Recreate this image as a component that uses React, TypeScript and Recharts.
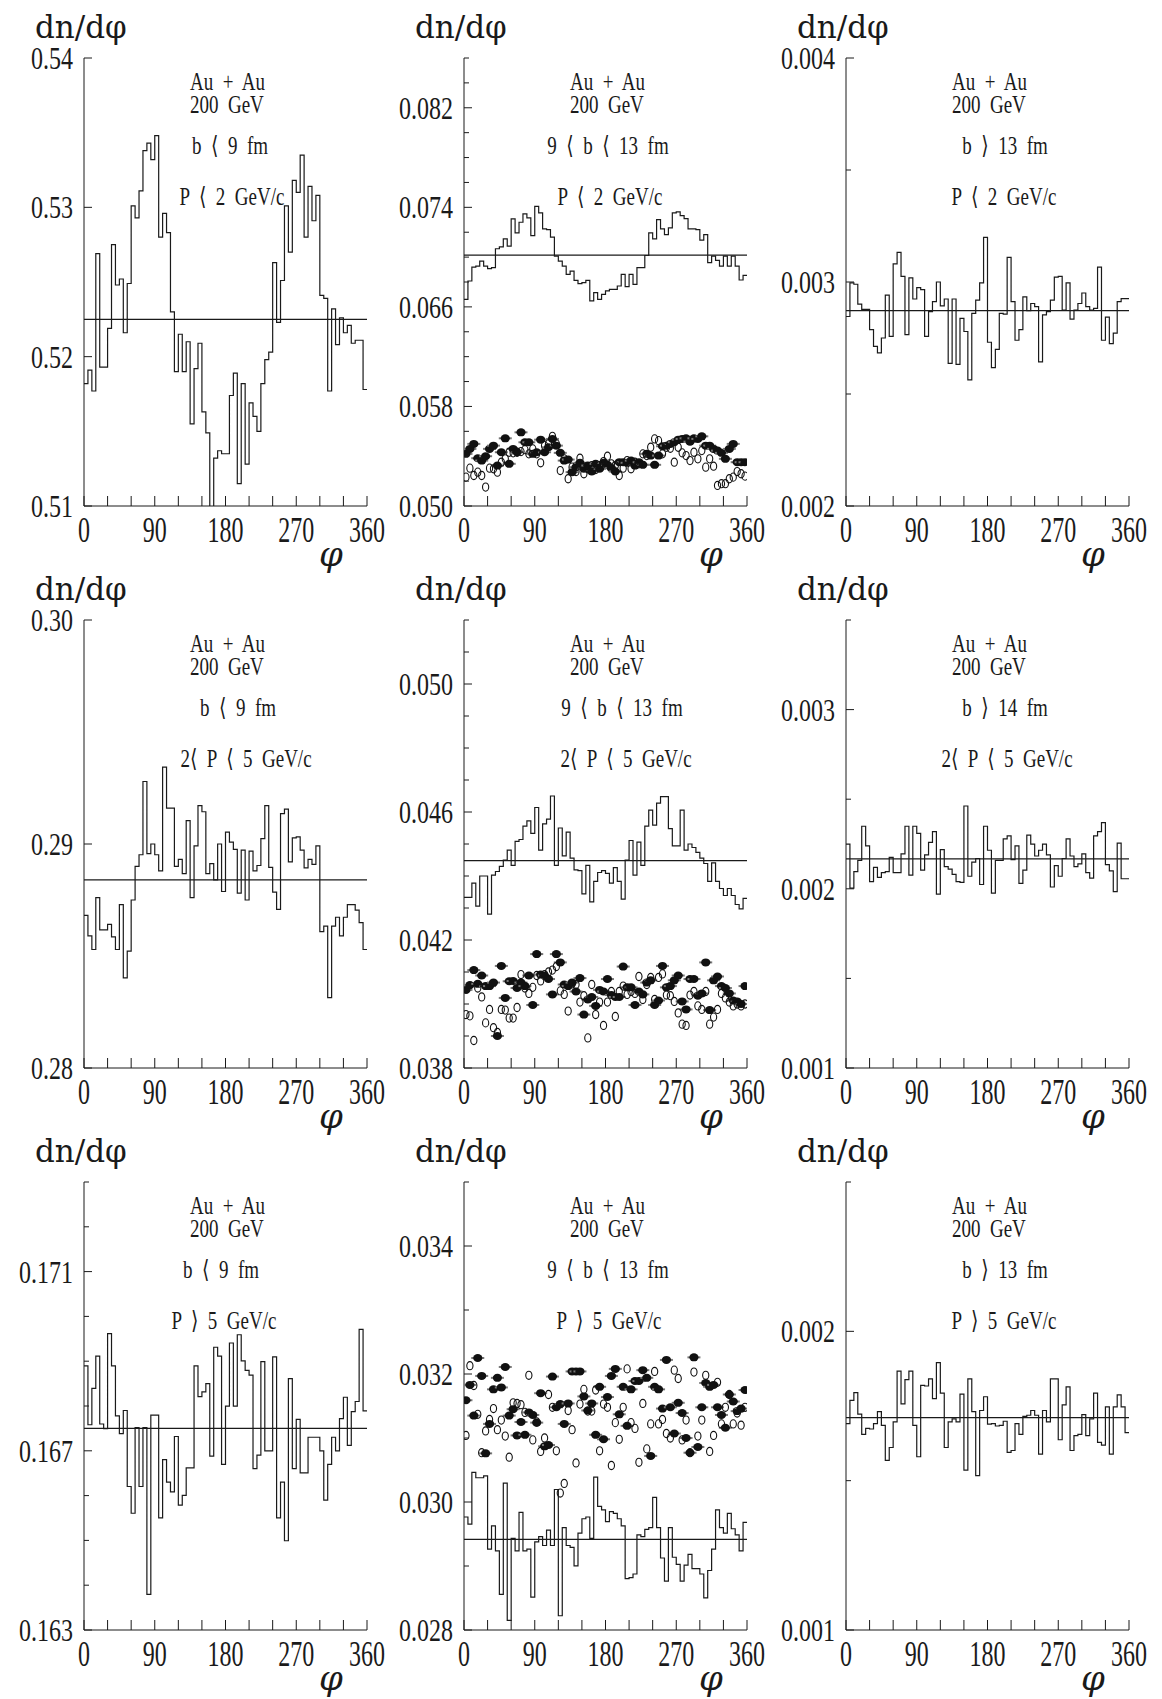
import { ComposedChart, Line, ReferenceLine, Scatter, XAxis, YAxis } from "recharts";

const INK = "#1a1a1a";

// layout of the 3x3 grid (plot-area corners, px)
const COL_X = [84, 464, 846];
const ROW_Y = [58, 620, 1182];
const PLOT_W = 283;
const PLOT_H = 448;
const PAD_L = 80;
const PAD_T = 18;
const PAD_R = 20;
const PAD_B = 60;

const X_TICKS = [0, 30, 60, 90, 120, 150, 180, 210, 240, 270, 300, 330, 360];
const X_LABELS = [0, 90, 180, 270, 360];

// ---- row 1: P < 2 GeV/c ----
const P1_HIST = [
  0.5182, 0.5191, 0.5177, 0.5269, 0.5193, 0.5193, 0.5219, 0.5275, 0.5248, 0.5252,
  0.5216, 0.5249, 0.5301, 0.5293, 0.5311, 0.5338, 0.5343, 0.5332, 0.5348, 0.528,
  0.5296, 0.5283, 0.523, 0.519, 0.5215, 0.519, 0.521, 0.5155, 0.5192, 0.5209,
  0.5163, 0.5149, 0.5095, 0.5132, 0.5137, 0.5135, 0.5135, 0.5174, 0.5189, 0.5115,
  0.5182, 0.5128, 0.5169, 0.516, 0.515, 0.5182, 0.5198, 0.5203, 0.5263, 0.5223,
  0.5251, 0.5301, 0.527, 0.5318, 0.531, 0.5335, 0.528, 0.5314, 0.5291, 0.5308,
  0.5241, 0.5239, 0.5177, 0.5232, 0.5208, 0.5226, 0.5216, 0.5221, 0.5209, 0.5211,
  0.5211, 0.5178,
];
const P1_YTICKS = [0.51, 0.52, 0.53, 0.54];
const P1_YLABELS = [0.51, 0.52, 0.53, 0.54];

const P2_HIST = [
  0.06661, 0.06808, 0.0692, 0.06928, 0.06968, 0.06928, 0.06907, 0.06915, 0.07067, 0.07083,
  0.07147, 0.07088, 0.07307, 0.07195, 0.0728, 0.07347, 0.07315, 0.07173, 0.07408, 0.07355,
  0.07227, 0.07221, 0.0716, 0.07008, 0.06968, 0.06928, 0.06861, 0.06888, 0.06813, 0.06787,
  0.06795, 0.06813, 0.06648, 0.06715, 0.06661, 0.06701, 0.06728, 0.06741, 0.06741, 0.06768,
  0.06861, 0.06763, 0.06861, 0.06781, 0.06915, 0.06915, 0.07013, 0.07195, 0.07147, 0.07301,
  0.07227, 0.07181, 0.07235, 0.07355, 0.07363, 0.07333, 0.07309, 0.07227, 0.07227, 0.07221,
  0.07136, 0.07181, 0.06955, 0.07008, 0.06973, 0.06928, 0.07008, 0.06928, 0.07008, 0.06928,
  0.06816, 0.06853,
];
const P2_FILLED = [
  0.05419, 0.05459, 0.05499, 0.05384, 0.05365, 0.054, 0.05459, 0.05485, 0.05325, 0.05432,
  0.05544, 0.05339, 0.05459, 0.05432, 0.05592, 0.05512, 0.05512, 0.05419, 0.05432, 0.05533,
  0.05432, 0.05472, 0.05539, 0.05485, 0.05427, 0.05365, 0.05373, 0.05272, 0.05312, 0.05347,
  0.05299, 0.05325, 0.05277, 0.05339, 0.05299, 0.05347, 0.05331, 0.05304, 0.05277, 0.05352,
  0.05352, 0.05347, 0.05365, 0.05325, 0.05352, 0.05331, 0.05419, 0.05405, 0.05331, 0.05405,
  0.0548, 0.05485, 0.05499, 0.05512, 0.05533, 0.05539, 0.05544, 0.05517, 0.05544, 0.05539,
  0.0556, 0.05485, 0.05485, 0.05459, 0.05445, 0.05427, 0.05379, 0.05459, 0.05499, 0.05352,
  0.05352, 0.05352,
];
const P2_OPEN = [
  0.05232, 0.05304, 0.05245, 0.05272, 0.05245, 0.05152, 0.05304, 0.05299, 0.05272, 0.05352,
  0.05379, 0.05432, 0.05427, 0.05432, 0.05437, 0.05453, 0.05419, 0.05459, 0.05419, 0.05347,
  0.05485, 0.05499, 0.0556, 0.05499, 0.05285, 0.05379, 0.05219, 0.05312, 0.05277, 0.05384,
  0.05259, 0.05299, 0.05325, 0.05293, 0.05325, 0.05357, 0.054, 0.05339, 0.05325, 0.05245,
  0.05304, 0.05365, 0.05299, 0.05352, 0.05339, 0.05419, 0.05405, 0.05472, 0.05539, 0.05525,
  0.05419, 0.05472, 0.05464, 0.05352, 0.05472, 0.05427, 0.05405, 0.05365, 0.05432, 0.05379,
  0.05445, 0.05312, 0.05379, 0.0532, 0.05165, 0.05179, 0.05179, 0.05219, 0.05232, 0.05277,
  0.05259, 0.0524,
];
const P2_YTICKS = [
  0.05, 0.052, 0.054, 0.056, 0.058, 0.06, 0.062, 0.064, 0.066, 0.068,
  0.07, 0.072, 0.074, 0.076, 0.078, 0.08, 0.082, 0.084, 0.086,
];
const P2_YLABELS = [0.05, 0.058, 0.066, 0.074, 0.082];

const P3_HIST = [
  0.002846, 0.002996, 0.00299, 0.002901, 0.002878, 0.002878, 0.002787, 0.002713, 0.002684, 0.00275,
  0.002941, 0.002757, 0.003081, 0.003132, 0.003025, 0.002765, 0.003018, 0.002924, 0.002975, 0.002966,
  0.002757, 0.002868, 0.002912, 0.003, 0.002893, 0.002924, 0.002637, 0.002924, 0.002632, 0.002838,
  0.002779, 0.002563, 0.00286, 0.002919, 0.002996, 0.003199, 0.002731, 0.002618, 0.002699, 0.00286,
  0.002857, 0.00311, 0.002912, 0.00274, 0.002787, 0.002934, 0.002872, 0.002904, 0.00289, 0.002643,
  0.002853, 0.002868, 0.002919, 0.003022, 0.003025, 0.002875, 0.002996, 0.002834, 0.002875, 0.002904,
  0.002951, 0.00289, 0.002875, 0.002882, 0.003066, 0.00274, 0.002843, 0.002725, 0.002772, 0.002912,
  0.002926, 0.002926,
];
const P3_YTICKS = [0.002, 0.0025, 0.003, 0.0035, 0.004];
const P3_YLABELS = [0.002, 0.003, 0.004];

// ---- row 2: 2 < P < 5 GeV/c ----
const P4_HIST = [
  0.28681, 0.2859, 0.28529, 0.28761, 0.28617, 0.28617, 0.28641, 0.28585, 0.28529, 0.28729,
  0.28402, 0.28522, 0.2875, 0.289, 0.28952, 0.29279, 0.28957, 0.29, 0.28952, 0.2888,
  0.29343, 0.2916, 0.2916, 0.289, 0.28931, 0.28868, 0.29104, 0.28761, 0.28992, 0.29171,
  0.29144, 0.28868, 0.28912, 0.2884, 0.29, 0.28788, 0.29053, 0.29008, 0.28976, 0.28781,
  0.28973, 0.2875, 0.28968, 0.2888, 0.28904, 0.29024, 0.29171, 0.28896, 0.28785, 0.28708,
  0.29136, 0.29156, 0.2892, 0.29027, 0.29032, 0.28973, 0.28893, 0.28931, 0.28909, 0.28992,
  0.28609, 0.28633, 0.28314, 0.28633, 0.28673, 0.2859, 0.28673, 0.28729, 0.28729, 0.28705,
  0.28649, 0.28529,
];
const P4_YTICKS = [0.28, 0.29, 0.3];
const P4_YLABELS = [0.28, 0.29, 0.3];

const P5_HIST = [
  0.04333, 0.04333, 0.04378, 0.04306, 0.044, 0.044, 0.04281, 0.04403, 0.04414, 0.0443,
  0.0445, 0.04481, 0.04433, 0.04508, 0.04514, 0.04556, 0.04572, 0.04533, 0.04614, 0.04481,
  0.04563, 0.04578, 0.0465, 0.04433, 0.0455, 0.04463, 0.04537, 0.04456, 0.04419, 0.04417,
  0.04344, 0.04433, 0.04319, 0.04383, 0.04411, 0.04417, 0.04408, 0.04378, 0.04426, 0.04383,
  0.04328, 0.0445, 0.04511, 0.04403, 0.04506, 0.04433, 0.04556, 0.04606, 0.04559, 0.04628,
  0.04648, 0.04648, 0.04548, 0.04494, 0.04494, 0.04606, 0.04481, 0.045, 0.04489, 0.04474,
  0.04456, 0.04439, 0.04383, 0.04441, 0.04383, 0.04361, 0.04339, 0.04361, 0.04339, 0.04311,
  0.04297, 0.0433,
];
const P5_FILLED = [
  0.04044, 0.04059, 0.04106, 0.04063, 0.04089, 0.04056, 0.04056, 0.04067, 0.039, 0.04119,
  0.04019, 0.04071, 0.04072, 0.0405, 0.04067, 0.04056, 0.04089, 0.03997, 0.04156, 0.04092,
  0.04089, 0.04078, 0.0403, 0.04156, 0.0413, 0.04061, 0.04056, 0.04067, 0.04039, 0.04081,
  0.03967, 0.04014, 0.04022, 0.03994, 0.04044, 0.04039, 0.04078, 0.04028, 0.04022, 0.04022,
  0.04117, 0.04052, 0.04052, 0.03997, 0.04039, 0.0403, 0.04067, 0.04074, 0.03997, 0.04011,
  0.04119, 0.04052, 0.04056, 0.04074, 0.04089, 0.04008, 0.03983, 0.04078, 0.04078, 0.04026,
  0.04033, 0.0413, 0.03981, 0.04074, 0.04086, 0.04056, 0.0405, 0.04033, 0.04011, 0.04008,
  0.04, 0.04056,
];
const P5_OPEN = [
  0.03967, 0.03963, 0.03886, 0.0405, 0.04022, 0.03941, 0.03983, 0.03926, 0.03911, 0.03983,
  0.03981, 0.03956, 0.03956, 0.03989, 0.04092, 0.0405, 0.04033, 0.04052, 0.04089, 0.04072,
  0.04092, 0.041, 0.04106, 0.04117, 0.04041, 0.0403, 0.03978, 0.04063, 0.04061, 0.04006,
  0.04026, 0.03894, 0.04061, 0.03967, 0.04006, 0.03933, 0.04006, 0.04039, 0.03961, 0.04039,
  0.04056, 0.0403, 0.04039, 0.04033, 0.04086, 0.04014, 0.04061, 0.04083, 0.04014, 0.04083,
  0.04094, 0.04028, 0.04026, 0.04008, 0.03972, 0.03937, 0.03933, 0.04028, 0.04039, 0.03994,
  0.03983, 0.04039, 0.03937, 0.03959, 0.03983, 0.04033, 0.04019, 0.04006, 0.03994, 0.04,
  0.03994, 0.04,
];
const P5_YTICKS = [
  0.038, 0.039, 0.04, 0.041, 0.042, 0.043, 0.044, 0.045, 0.046, 0.047, 0.048, 0.049, 0.05, 0.051, 0.052,
];
const P5_YLABELS = [0.038, 0.042, 0.046, 0.05];

const P6_HIST = [
  0.002249, 0.002004, 0.002096, 0.002159, 0.002349, 0.002239, 0.00204, 0.00212, 0.002064, 0.00209,
  0.002096, 0.002175, 0.00209, 0.00209, 0.002195, 0.002349, 0.002076, 0.002349, 0.002309, 0.002104,
  0.002189, 0.002259, 0.002319, 0.00197, 0.002219, 0.002124, 0.00211, 0.00208, 0.00204, 0.002036,
  0.002462, 0.00207, 0.002149, 0.002169, 0.002024, 0.002349, 0.002215, 0.001976, 0.002159, 0.002159,
  0.002279, 0.002295, 0.002163, 0.002239, 0.00203, 0.002104, 0.002299, 0.002249, 0.002183, 0.002215,
  0.002249, 0.002189, 0.00201, 0.002129, 0.00207, 0.002169, 0.002279, 0.002183, 0.002124, 0.002139,
  0.002195, 0.00209, 0.00206, 0.002295, 0.002319, 0.002369, 0.002135, 0.0021, 0.001984, 0.002255,
  0.002056, 0.002056,
];
const P6_YTICKS = [0.001, 0.0015, 0.002, 0.0025, 0.003, 0.0035];
const P6_YLABELS = [0.001, 0.002, 0.003];

// ---- row 3: P > 5 GeV/c ----
const P7_HIST = [
  0.168896, 0.167582, 0.168394, 0.169112, 0.167598, 0.167494, 0.169614, 0.168896, 0.167781, 0.167382,
  0.1679, 0.166203, 0.165606, 0.167518, 0.166203, 0.167518, 0.163797, 0.167797, 0.167797, 0.165502,
  0.166801, 0.166299, 0.166084, 0.167319, 0.165789, 0.166004, 0.166618, 0.166618, 0.168896, 0.168211,
  0.168315, 0.168498, 0.16688, 0.169311, 0.169112, 0.166697, 0.167996, 0.169406, 0.167996, 0.16959,
  0.169008, 0.168793, 0.168689, 0.166602, 0.166904, 0.168992, 0.167, 0.167, 0.169096, 0.165502,
  0.166299, 0.164992, 0.16861, 0.166602, 0.167701, 0.166506, 0.166506, 0.167303, 0.167303, 0.167303,
  0.167, 0.1659, 0.166697, 0.167303, 0.167, 0.167717, 0.168195, 0.16712, 0.167876, 0.1681,
  0.169709, 0.167892,
];
const P7_YTICKS = [0.163, 0.164, 0.165, 0.166, 0.167, 0.168, 0.169, 0.17, 0.171, 0.172, 0.173];
const P7_YLABELS = [0.163, 0.167, 0.171];

const P8_HIST = [
  0.029766, 0.029655, 0.030462, 0.030379, 0.030379, 0.030407, 0.029265, 0.029627, 0.029237, 0.028557,
  0.030295, 0.02815, 0.029432, 0.029237, 0.029838, 0.029237, 0.029265, 0.028513, 0.029376, 0.02946,
  0.02932, 0.02956, 0.02932, 0.030195, 0.028223, 0.029599, 0.02932, 0.029292, 0.029003, 0.029515,
  0.029738, 0.029766, 0.029432, 0.03039, 0.029933, 0.029877, 0.029694, 0.02985, 0.029822, 0.029738,
  0.029627, 0.028802, 0.028819, 0.028875, 0.029487, 0.02946, 0.029571, 0.029599, 0.030072, 0.029599,
  0.029125, 0.028763, 0.029599, 0.029137, 0.029025, 0.028763, 0.029014, 0.029181, 0.028958, 0.028958,
  0.028875, 0.028501, 0.02893, 0.029265, 0.029877, 0.029599, 0.029515, 0.029822, 0.029582, 0.029487,
  0.029237, 0.029682,
];
const P8_FILLED = [
  0.03159, 0.03183, 0.03135, 0.03225, 0.03197, 0.03076, 0.03122, 0.03176, 0.03194, 0.03179,
  0.03211, 0.03135, 0.03145, 0.03104, 0.03125, 0.03105, 0.0314, 0.03136, 0.03124, 0.0317,
  0.03087, 0.03089, 0.03196, 0.03148, 0.03153, 0.03122, 0.03154, 0.03204, 0.03204, 0.03204,
  0.03165, 0.03143, 0.03154, 0.03105, 0.0318, 0.03098, 0.03164, 0.03197, 0.03208, 0.03137,
  0.0318, 0.03119, 0.03176, 0.03189, 0.03189, 0.03206, 0.03194, 0.03072, 0.0318, 0.03176,
  0.03146, 0.03222, 0.03148, 0.03107, 0.03155, 0.03139, 0.031, 0.03077, 0.03226, 0.03086,
  0.03148, 0.03186, 0.0318, 0.03183, 0.03148, 0.03136, 0.03116, 0.03168, 0.03157, 0.03142,
  0.03146, 0.03175,
];
const P8_OPEN = [
  0.03104, 0.03213, 0.03182, 0.03137, 0.03077, 0.03111, 0.03129, 0.03146, 0.03113, 0.03128,
  0.03103, 0.0307, 0.03155, 0.03154, 0.03152, 0.0314, 0.03198, 0.03097, 0.03125, 0.03079,
  0.031, 0.03168, 0.03148, 0.0308, 0.03014, 0.03029, 0.03143, 0.03113, 0.03061, 0.03153,
  0.03176, 0.03142, 0.03142, 0.03175, 0.0308, 0.03153, 0.03148, 0.03057, 0.03124, 0.03098,
  0.03148, 0.03208, 0.03124, 0.03115, 0.03062, 0.03154, 0.03083, 0.03122, 0.03204, 0.03122,
  0.03129, 0.03107, 0.031, 0.03206, 0.03193, 0.03097, 0.03128, 0.03077, 0.03203, 0.03103,
  0.03128, 0.03198, 0.03079, 0.03104, 0.03187, 0.03122, 0.03148, 0.03168, 0.03122, 0.03139,
  0.0312, 0.03148,
];
const P8_YTICKS = [0.028, 0.029, 0.03, 0.031, 0.032, 0.033, 0.034, 0.035];
const P8_YLABELS = [0.028, 0.03, 0.032, 0.034];

const P9_HIST = [
  0.001691, 0.001769, 0.001795, 0.001723, 0.001655, 0.001675, 0.001673, 0.001691, 0.001731, 0.001685,
  0.001568, 0.001611, 0.001697, 0.001867, 0.001757, 0.001838, 0.001867, 0.001685, 0.00158, 0.001819,
  0.001817, 0.001841, 0.001775, 0.001895, 0.001793, 0.001611, 0.001697, 0.001707, 0.001697, 0.00179,
  0.001535, 0.001841, 0.001731, 0.001517, 0.001735, 0.001781, 0.001689, 0.001691, 0.001683, 0.001685,
  0.001699, 0.001595, 0.001601, 0.001691, 0.001655, 0.001715, 0.001719, 0.001735, 0.001719, 0.001589,
  0.001735, 0.001697, 0.001841, 0.001841, 0.001637, 0.001754, 0.001814, 0.001601, 0.001651, 0.001655,
  0.001721, 0.001651, 0.001707, 0.001793, 0.001628, 0.001619, 0.001747, 0.001589, 0.001747, 0.001787,
  0.001747, 0.001661,
];
const P9_YTICKS = [0.001, 0.0015, 0.002, 0.0025];
const P9_YLABELS = [0.001, 0.002];

// flat mean levels, panel order row by row
const MEANS = [0.5225, 0.07016, 0.002872, 0.2884, 0.04448, 0.002167, 0.1675, 0.029415, 0.001711];

const B_CUTS = ["b  ⟨  9  fm", "9  ⟨  b  ⟨  13  fm", "b  ⟩  13  fm", "b  ⟨  9  fm", "9  ⟨  b  ⟨  13  fm", "b  ⟩  14  fm", "b  ⟨  9  fm", "9  ⟨  b  ⟨  13  fm", "b  ⟩  13  fm"];
const P_CUTS = ["P  ⟨  2  GeV/c", "P  ⟨  2  GeV/c", "P  ⟨  2  GeV/c", "2⟨  P  ⟨  5  GeV/c", "2⟨  P  ⟨  5  GeV/c", "2⟨  P  ⟨  5  GeV/c", "P  ⟩  5  GeV/c", "P  ⟩  5  GeV/c", "P  ⟩  5  GeV/c"];

const PANELS = [
  { hist: P1_HIST, domain: [0.51, 0.54], yTicks: P1_YTICKS, yLabels: P1_YLABELS, digits: 2, bOff: 146, pOff: 148 },
  { hist: P2_HIST, domain: [0.05, 0.086], yTicks: P2_YTICKS, yLabels: P2_YLABELS, digits: 3, filled: P2_FILLED, open: P2_OPEN, bOff: 144, pOff: 146 },
  { hist: P3_HIST, domain: [0.002, 0.004], yTicks: P3_YTICKS, yLabels: P3_YLABELS, digits: 3, bOff: 159, pOff: 158 },
  { hist: P4_HIST, domain: [0.28, 0.3], yTicks: P4_YTICKS, yLabels: P4_YLABELS, digits: 2, bOff: 154, pOff: 162 },
  { hist: P5_HIST, domain: [0.038, 0.052], yTicks: P5_YTICKS, yLabels: P5_YLABELS, digits: 3, filled: P5_FILLED, open: P5_OPEN, bOff: 158, pOff: 162 },
  { hist: P6_HIST, domain: [0.001, 0.0035], yTicks: P6_YTICKS, yLabels: P6_YLABELS, digits: 3, bOff: 159, pOff: 161 },
  { hist: P7_HIST, domain: [0.163, 0.173], yTicks: P7_YTICKS, yLabels: P7_YLABELS, digits: 3, bOff: 137, pOff: 140 },
  { hist: P8_HIST, domain: [0.028, 0.035], yTicks: P8_YTICKS, yLabels: P8_YLABELS, digits: 3, filled: P8_FILLED, open: P8_OPEN, bOff: 144, pOff: 145 },
  { hist: P9_HIST, domain: [0.001, 0.0025], yTicks: P9_YTICKS, yLabels: P9_YLABELS, digits: 3, bOff: 159, pOff: 158 },
];

const isLabel = (list: number[], v: number) => list.some((l) => Math.abs(l - v) < 1e-9);

const XTick = (props: any) => {
  const { x, y, payload } = props;
  const v = payload.value;
  return (
    <g>
      <line x1={x} x2={x} y1={y} y2={y - 10} stroke={INK} strokeWidth={1} />
      {isLabel(X_LABELS, v) && (
        <text
          transform={`translate(${x},${y + 24}) scale(1,1.5)`}
          textAnchor="middle"
          dy="0.34em"
          fontFamily="Liberation Serif"
          fontSize={24}
          fill={INK}
        >
          {v}
        </text>
      )}
    </g>
  );
};

const YTick = (props: any) => {
  const { x, y, payload, labels, digits } = props;
  const v = payload.value;
  const major = isLabel(labels, v);
  return (
    <g>
      <line x1={x} x2={x + (major ? 8 : 5)} y1={y} y2={y} stroke={INK} strokeWidth={1} />
      {major && (
        <text
          transform={`translate(${x - 11},${y}) scale(1,1.34)`}
          textAnchor="end"
          dy="0.34em"
          fontFamily="Liberation Serif"
          fontSize={24}
          fill={INK}
        >
          {v.toFixed(digits)}
        </text>
      )}
    </g>
  );
};

const FilledDot = (props: any) => {
  const { cx, cy } = props;
  if (cx == null || cy == null) return null;
  return (
    <g>
      <line x1={cx - 6.5} x2={cx + 6.5} y1={cy} y2={cy} stroke="#777" strokeWidth={2} />
      <ellipse cx={cx} cy={cy} rx={4.6} ry={4} fill="#111" />
    </g>
  );
};

const OpenDot = (props: any) => {
  const { cx, cy } = props;
  if (cx == null || cy == null) return null;
  return <ellipse cx={cx} cy={cy} rx={3.1} ry={4.1} fill="none" stroke="#111" strokeWidth={1.1} />;
};

const Panel = ({ p, mean, left, top }: any) => {
  const rows = p.hist
    .map((v: number, i: number) => ({ phi: i * 5, v }))
    .concat([{ phi: 360, v: p.hist[p.hist.length - 1] }]);
  const filled = p.filled ? p.filled.map((v: number, i: number) => ({ phi: i * 5 + 2.5, v })) : null;
  const open = p.open ? p.open.map((v: number, i: number) => ({ phi: i * 5 + 2.5, v })) : null;
  return (
    <div style={{ position: "absolute", left: left - PAD_L, top: top - PAD_T }}>
      <ComposedChart
        width={PAD_L + PLOT_W + PAD_R}
        height={PAD_T + PLOT_H + PAD_B}
        data={rows}
        margin={{ top: PAD_T, right: PAD_R, bottom: 0, left: 0 }}
      >
        <XAxis
          type="number"
          dataKey="phi"
          domain={[0, 360]}
          ticks={X_TICKS}
          interval={0}
          height={PAD_B}
          tickLine={false}
          tickSize={0}
          tickMargin={0}
          stroke={INK}
          allowDataOverflow
          tick={(t: any) => <XTick {...t} />}
        />
        <YAxis
          type="number"
          dataKey="v"
          domain={p.domain}
          ticks={p.yTicks}
          interval={0}
          width={PAD_L}
          tickLine={false}
          tickSize={0}
          tickMargin={0}
          stroke={INK}
          allowDataOverflow
          tick={(t: any) => <YTick {...t} labels={p.yLabels} digits={p.digits} />}
        />
        <ReferenceLine y={mean} stroke={INK} strokeWidth={1.2} />
        {filled && <Scatter data={filled} shape={FilledDot} isAnimationActive={false} />}
        {open && <Scatter data={open} shape={OpenDot} isAnimationActive={false} />}
        <Line type="stepAfter" dataKey="v" stroke={INK} strokeWidth={1.2} dot={false} isAnimationActive={false} />
      </ComposedChart>
    </div>
  );
};

const txt = { fontFamily: "Liberation Serif, DejaVu Serif", fontSize: 19, fill: INK, whiteSpace: "pre" } as any;

export default function App() {
  return (
    <div style={{ position: "absolute", left: 0, top: 0, width: 1162, height: 1699, background: "#fff", overflow: "hidden" }}>
      {PANELS.map((p, k) => (
        <Panel key={k} p={p} mean={MEANS[k]} left={COL_X[k % 3]} top={ROW_Y[Math.floor(k / 3)]} />
      ))}
      <svg width={1162} height={1699} style={{ position: "absolute", left: 0, top: 0, pointerEvents: "none" }}>
        {PANELS.map((p, k) => {
          const L = COL_X[k % 3];
          const T = ROW_Y[Math.floor(k / 3)];
          return (
            <g key={k}>
              <text x={L - 49} y={T - 20} fontFamily="DejaVu Serif" fontSize={31} fill={INK}>
                dn/dφ
              </text>
              {/* two-line header kept in one text block */}
              <text transform={`translate(${L + 106},${T + 24}) scale(1,1.3)`} style={txt}>
                <tspan x={0} dy="0.34em">{"Au  +  Au"}</tspan>
                <tspan x={0} dy={23 / 1.3}>{"200  GeV"}</tspan>
              </text>
              <text transform={`translate(${L + p.bOff},${T + 88}) scale(1,1.3)`} dy="0.34em" textAnchor="middle" style={txt}>
                {B_CUTS[k]}
              </text>
              <text transform={`translate(${L + p.pOff},${T + 139}) scale(1,1.3)`} dy="0.34em" textAnchor="middle" style={txt}>
                {P_CUTS[k]}
              </text>
              <text x={L + 247} y={T + PLOT_H + 60} textAnchor="middle" fontFamily="DejaVu Serif" fontStyle="italic" fontSize={34} fill={INK}>
                φ
              </text>
            </g>
          );
        })}
      </svg>
    </div>
  );
}
